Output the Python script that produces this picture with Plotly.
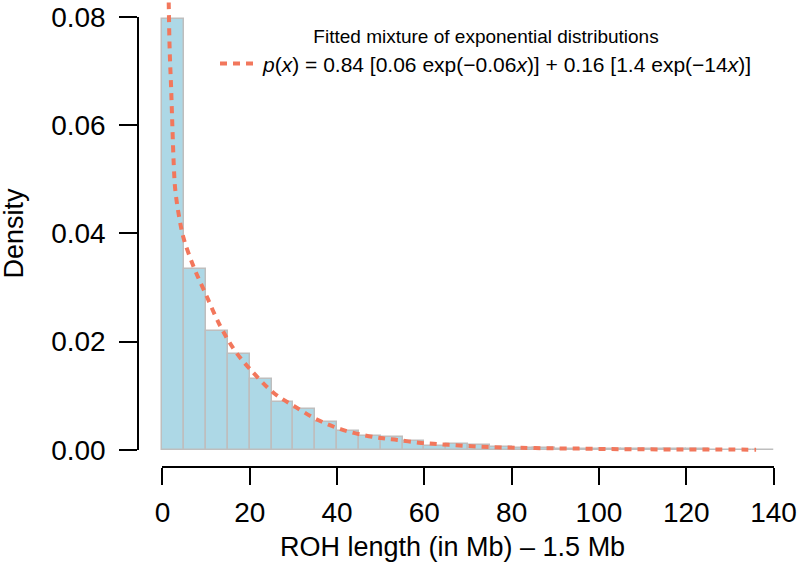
import plotly.graph_objects as go

# Histogram bins (left edges, Mb) and densities
bin_starts = list(range(0, 140, 5))
bin_width = 5
density = [0.0797, 0.0335, 0.0220, 0.0177, 0.0131, 0.0089, 0.0075, 0.0051,
           0.0035, 0.0025, 0.0024, 0.0016, 0.0007, 0.0011, 0.0008, 0.0005,
           0.0003, 0.0004, 0.0002, 0.0002, 0.0001, 0.0001, 0.0001, 0.00005,
           0.00005, 0.00003, 0.00003, 0.00002]

# Fitted mixture curve
curve_x = [1.35, 1.45, 1.67, 1.99, 2.29, 2.59, 2.95, 3.97, 4.89, 7.17, 9.85,
           13.3, 16.7, 20.2, 25.5, 30.1, 35.4, 40.8, 46.1, 50.5, 53.8, 58.7,
           62.1, 65.6, 72.1, 79.0, 85.4, 95.4, 105, 115, 125, 136]
curve_y = [0.0900, 0.0822, 0.0736, 0.0669, 0.0595, 0.0528, 0.0480, 0.0424,
           0.0390, 0.0338, 0.0289, 0.0228, 0.0182, 0.0148, 0.0105, 0.0081,
           0.0056, 0.0038, 0.0027, 0.0021, 0.0018, 0.0013, 0.0011, 0.0009,
           0.0006, 0.0004, 0.0003, 0.0002, 0.0001, 0.00005, 0.00003, 0.00001]

x_ticks = [0, 20, 40, 60, 80, 100, 120, 140]
y_ticks = [0.00, 0.02, 0.04, 0.06, 0.08]

FONT = "Liberation Sans, Arial, Helvetica, sans-serif"
CURVE_COLOR = "#F2775C"

fig = go.Figure()
fig.add_trace(go.Bar(
    x=bin_starts, y=density, width=bin_width, offset=0,
    marker=dict(color="#ADD8E6", line=dict(color="#BEBEBE", width=1.5)),
    showlegend=False,
))
fig.add_trace(go.Scatter(
    x=curve_x, y=curve_y, mode="lines", line_shape="spline",
    line=dict(color=CURVE_COLOR, width=4, dash="7px,6px"),
    name="<i>p</i>(<i>x</i>) = 0.84 [0.06 exp(\u22120.06<i>x</i>)] + 0.16 [1.4 exp(\u221214<i>x</i>)]",
    showlegend=True,
))
# empty trace to activate the R-style axes subplot
fig.add_trace(go.Scatter(x=[], y=[], xaxis="x2", yaxis="y2", showlegend=False))

xmin, xmax = 0, 140
ymin, ymax = 0, 0.08
xpad = (xmax - xmin) * 0.04
ypad = (ymax - ymin) * 0.04
xr = [xmin - xpad, xmax + xpad]
yr = [ymin - ypad, ymax + ypad]
xdom = [xpad / (xr[1] - xr[0]), 1 - xpad / (xr[1] - xr[0])]
ydom = [ypad / (yr[1] - yr[0]), 1 - ypad / (yr[1] - yr[0])]

fig.update_layout(
    width=798, height=571,
    margin=dict(l=138, r=0, t=0, b=104, autoexpand=False),
    plot_bgcolor="rgba(0,0,0,0)", paper_bgcolor="white",
    font=dict(family=FONT, color="black"),
    bargap=0,
    xaxis=dict(range=xr, domain=[0, 1], showline=False, showgrid=False,
               zeroline=False, showticklabels=False, ticks="", automargin=False),
    yaxis=dict(range=yr, domain=[0, 1], showline=False, showgrid=False,
               zeroline=False, showticklabels=False, ticks="", automargin=False),
    xaxis2=dict(range=[xmin, xmax], domain=xdom, anchor="free",
                position=0, showline=True, linecolor="black", linewidth=1.5,
                ticks="outside", ticklen=17, tickwidth=1.5, tickcolor="black",
                tickvals=x_ticks, ticktext=[str(v) for v in x_ticks],
                showgrid=False, zeroline=False, tickfont=dict(size=28),
                ticklabelstandoff=4, automargin=False),
    yaxis2=dict(range=[ymin, ymax], domain=ydom, anchor="free",
                position=0, side="left", showline=True, linecolor="black",
                linewidth=1.5, ticks="outside", ticklen=18, tickwidth=1.5,
                tickcolor="black", tickvals=y_ticks,
                ticktext=[f"{v:.2f}" for v in y_ticks],
                showgrid=False, zeroline=False, tickfont=dict(size=28),
                ticklabelstandoff=8, automargin=False),
    legend=dict(
        x=0.1167, y=0.96, xanchor="left", yanchor="top",
        bgcolor="rgba(0,0,0,0)", borderwidth=0, itemwidth=38,
        font=dict(size=21, family=FONT),
        title=dict(text="Fitted mixture of exponential distributions",
                   side="top center", font=dict(size=19, family=FONT)),
    ),
    annotations=[
        dict(text="ROH length (in Mb) \u2013 1.5 Mb", xref="paper", yref="paper",
             x=0.477, y=0, yshift=-80, xanchor="center", yanchor="middle",
             showarrow=False, font=dict(size=27)),
        dict(text="Density", xref="paper", yref="paper", textangle=-90,
             x=0, xshift=-125, y=0.5, xanchor="center", yanchor="middle",
             showarrow=False, font=dict(size=27)),
    ],
)

fig.write_html("out.html", config={"displayModeBar": False},
               post_script="document.body.style.margin='0';")
